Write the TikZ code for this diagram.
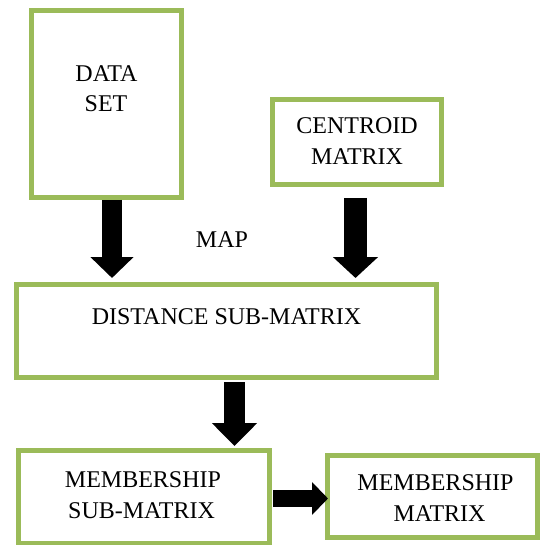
\documentclass[tikz,border=0pt]{standalone}
\usepackage{fontspec}
\setmainfont{Liberation Serif}
\usetikzlibrary{arrows.meta,calc}
\definecolor{boxgreen}{RGB}{155,187,89}
\begin{document}
\begin{tikzpicture}[x=1pt,y=-1pt,
  box/.style={draw=boxgreen,line width=5pt,inner sep=0pt,outer sep=2.5pt,fill=white},
  lbl/.style={anchor=base,inner sep=0pt,font=\fontsize{24}{30}\selectfont},
  blockarrow/.style={line width=#1,-{Triangle[width=44pt,length=21pt]}},
]
\useasboundingbox[fill=white] (0,0) rectangle (540,545);
% boxes
\node[box,minimum width=150pt,minimum height=187pt] (ds) at (106.5,104) {};
\node[box,minimum width=169pt,minimum height=85pt] (cm) at (357,142) {};
\node[box,minimum width=420pt,minimum height=93pt] (dist) at (226.5,331) {};
\node[box,minimum width=251pt,minimum height=93pt] (ms) at (144,497) {};
\node[box,minimum width=210pt,minimum height=82pt] (mm) at (432.5,496.5) {};
% texts
\node[lbl] (t1) at (106.5,81.5) {DATA};
\node[lbl] (t2) at (106,112) {SET};
\node[lbl] (t3) at (357,133.5) {CENTROID};
\node[lbl] (t4) at (357,165) {MATRIX};
\node[lbl] (t5) at (222,247.5) {MAP};
\node[lbl] (t6) at (226.5,324.5) {DISTANCE SUB-MATRIX};
\node[lbl] (t7) at (143,487.5) {MEMBERSHIP};
\node[lbl] (t8) at (141.5,518.5) {SUB-MATRIX};
\node[lbl] (t9) at (435.5,490) {MEMBERSHIP};
\node[lbl] (t10) at (439.5,521.5) {MATRIX};
% arrows
\coordinate (a1s) at ($(ds.south)+(5.5,0)$);
\coordinate (a1e) at ($(a1s |- dist.north)+(0,-4)$);
\draw[line width=20pt,-{Triangle[width=42pt,length=21pt]}] (a1s) -- (a1e);
\coordinate (a2s) at ($(cm.south)+(-1.5,11)$);
\coordinate (a2e) at ($(a2s |- dist.north)+(0,-4)$);
\draw[line width=23pt,-{Triangle[width=44pt,length=21pt]}] (a2s) -- (a2e);
\coordinate (a3s) at ($(dist.south)+(8,2)$);
\coordinate (a3e) at ($(a3s |- ms.north)+(0,-2)$);
\draw[line width=21pt,-{Triangle[width=44pt,length=23pt]}] (a3s) -- (a3e);
\coordinate (a4s) at ($(ms.east)+(1,1.5)$);
\coordinate (a4e) at ($(a4s -| mm.west)+(3,0)$);
\draw[line width=17pt,-{Triangle[width=32pt,length=16pt]}] (a4s) -- (a4e);
\end{tikzpicture}
\end{document}
